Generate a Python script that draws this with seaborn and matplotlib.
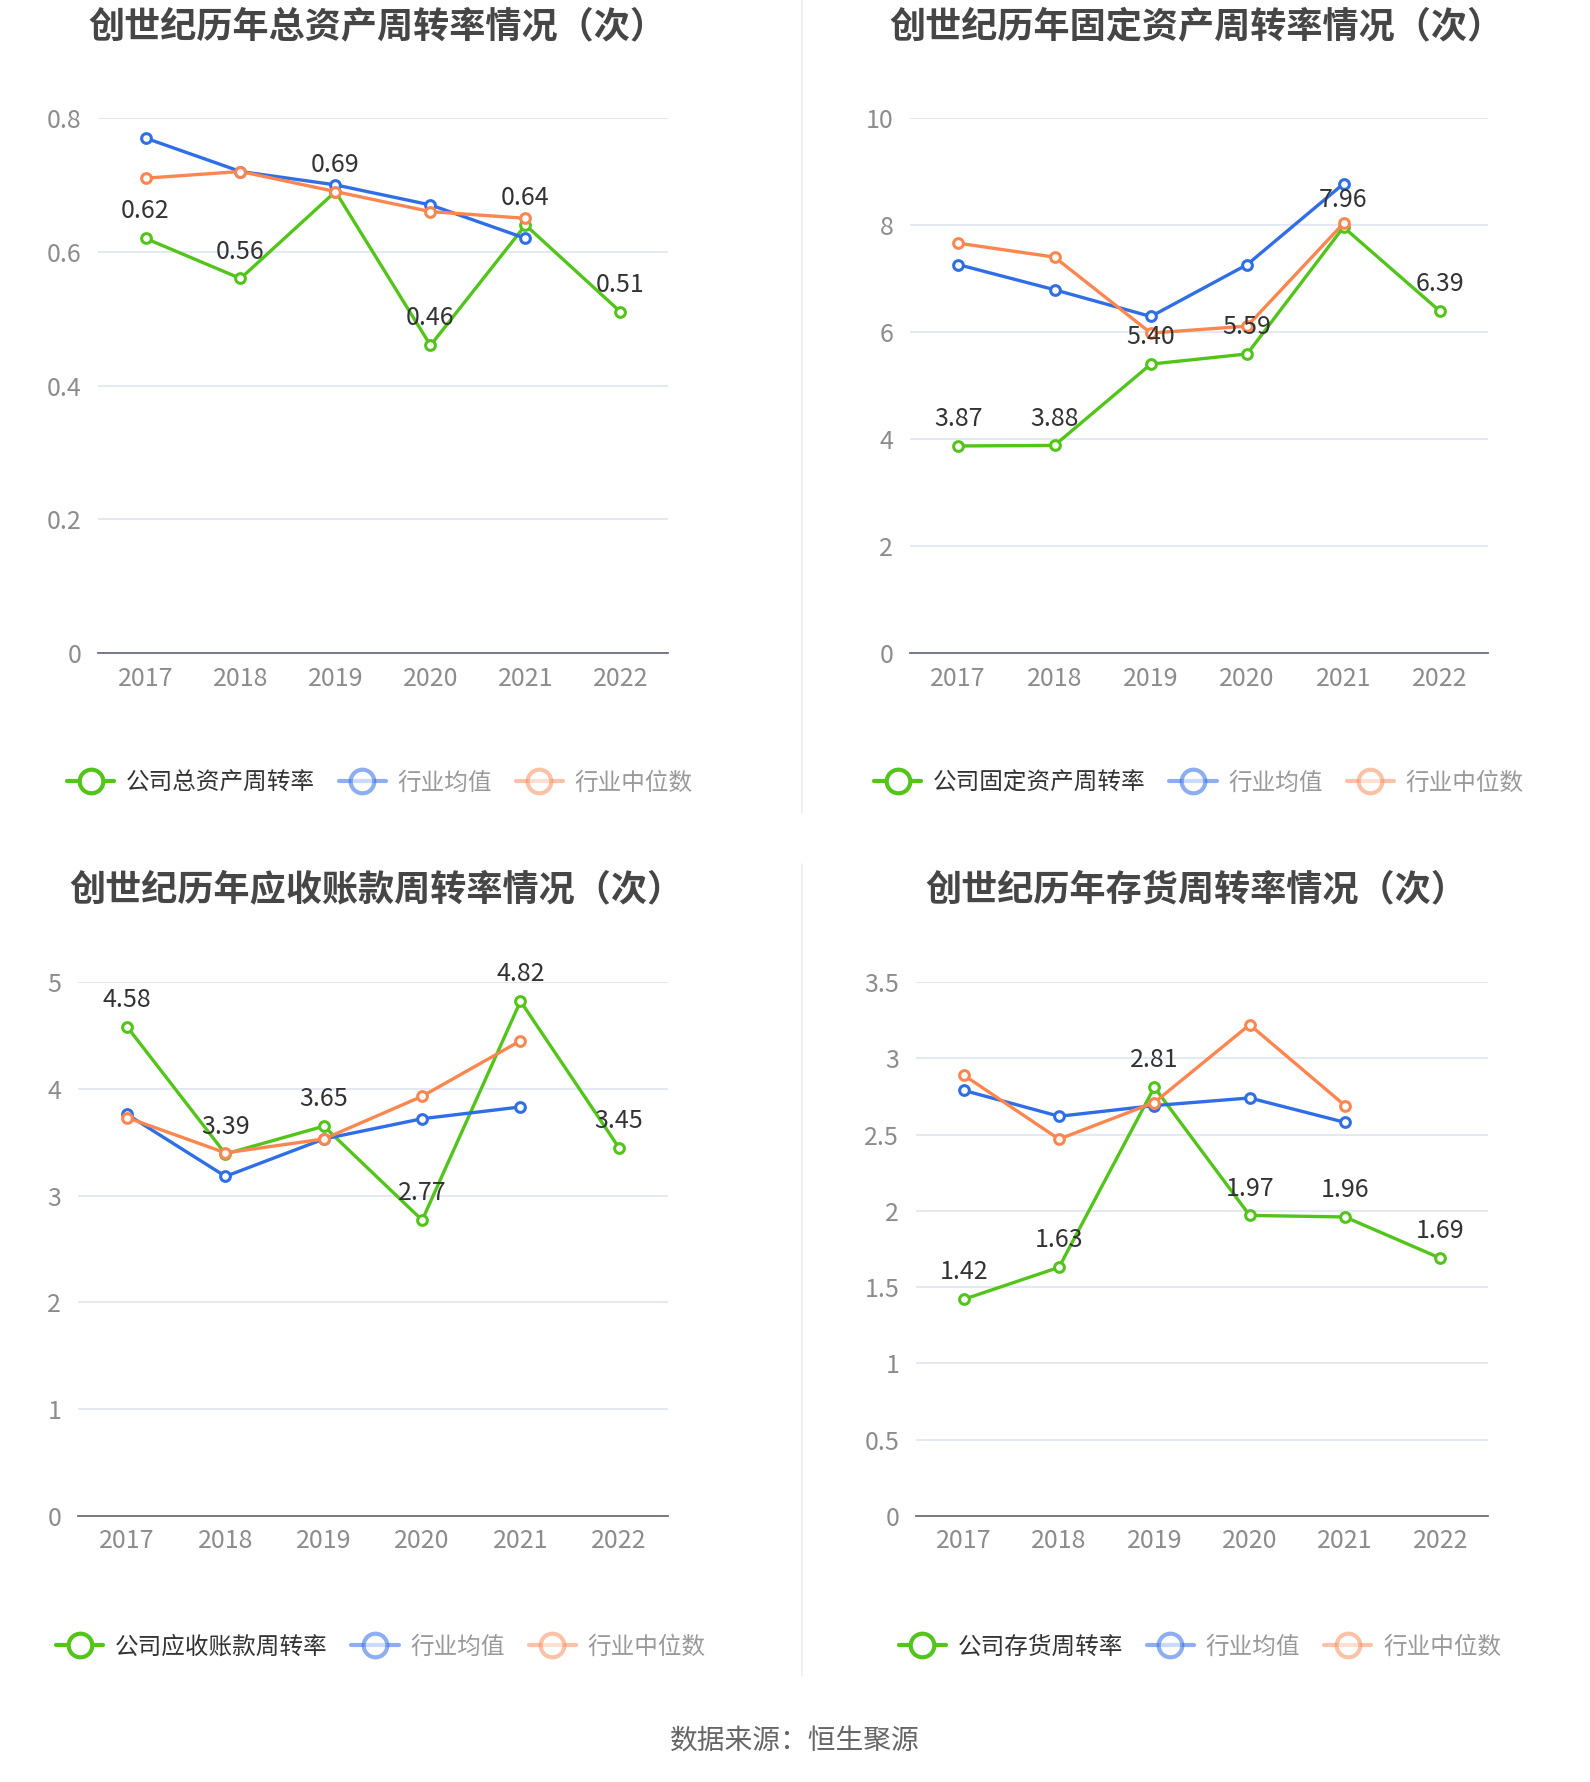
import matplotlib
matplotlib.use("Agg")
import matplotlib.pyplot as plt
from matplotlib.lines import Line2D
from matplotlib.ticker import FuncFormatter
import seaborn as sns
import pandas as pd
import numpy as np

# ---- data ----
years = ["2017", "2018", "2019", "2020", "2021", "2022"]

total_company = [0.62, 0.56, 0.69, 0.46, 0.64, 0.51]
total_avg = [0.77, 0.72, 0.70, 0.67, 0.62, np.nan]
total_median = [0.71, 0.72, 0.69, 0.66, 0.65, np.nan]

fixed_company = [3.87, 3.88, 5.40, 5.59, 7.96, 6.39]
fixed_avg = [7.26, 6.79, 6.29, 7.26, 8.77, np.nan]
fixed_median = [7.66, 7.40, 5.98, 6.11, 8.03, np.nan]

recv_company = [4.58, 3.39, 3.65, 2.77, 4.82, 3.45]
recv_avg = [3.76, 3.18, 3.53, 3.72, 3.83, np.nan]
recv_median = [3.73, 3.40, 3.53, 3.93, 4.45, np.nan]

inv_company = [1.42, 1.63, 2.81, 1.97, 1.96, 1.69]
inv_avg = [2.79, 2.62, 2.69, 2.74, 2.58, np.nan]
inv_median = [2.89, 2.47, 2.71, 3.22, 2.69, np.nan]

titles = ["创世纪历年总资产周转率情况（次）", "创世纪历年固定资产周转率情况（次）",
          "创世纪历年应收账款周转率情况（次）", "创世纪历年存货周转率情况（次）"]
company_names = ["公司总资产周转率", "公司固定资产周转率", "公司应收账款周转率", "公司存货周转率"]
avg_name = "行业均值"
median_name = "行业中位数"
y_ticks = [[0, 0.2, 0.4, 0.6, 0.8], [0, 2, 4, 6, 8, 10], [0, 1, 2, 3, 4, 5],
           [0, 0.5, 1, 1.5, 2, 2.5, 3, 3.5]]
source_text = "数据来源：恒生聚源"

GREEN = "#52c41a"
BLUE = "#2f6ee6"
ORANGE = "#fb8650"
GRID = "#e0e6f1"
AXIS = "#6e7079"
TICK = "#8c8c8c"

sns.set_theme(style="white")
plt.rcParams["font.family"] = ["Noto Sans CJK SC", "DejaVu Sans"]

fig = plt.figure(figsize=(15.9, 17.82), dpi=100)

W, H = 1590, 1782


def px_axes(left, top, right, bottom):
    return fig.add_axes([left / W, 1 - bottom / H, (right - left) / W, (bottom - top) / H])


panels = [
    dict(box=(98, 118, 668, 653), title_xy=(377, 27), legend_xy=(380, 783),
         series=(total_company, total_avg, total_median)),
    dict(box=(910, 118, 1488, 653), title_xy=(1196, 27), legend_xy=(1199, 783),
         series=(fixed_company, fixed_avg, fixed_median)),
    dict(box=(78, 982, 668, 1516), title_xy=(376, 890), legend_xy=(381, 1647),
         series=(recv_company, recv_avg, recv_median)),
    dict(box=(916, 982, 1488, 1516), title_xy=(1196, 890), legend_xy=(1200, 1647),
         series=(inv_company, inv_avg, inv_median)),
]

fmt = FuncFormatter(lambda v, p: f"{v:g}")

for i, p in enumerate(panels):
    ax = px_axes(*p["box"])
    comp, avg, med = p["series"]
    df = pd.DataFrame({"pos": range(len(years)), "company": comp, "avg": avg, "median": med})

    for col, color in [("company", GREEN), ("avg", BLUE), ("median", ORANGE)]:
        sub = df.dropna(subset=[col])
        sns.lineplot(data=sub, x="pos", y=col, ax=ax, color=color, linewidth=2.4,
                     marker="o", markersize=7, markerfacecolor="white",
                     markeredgecolor=color, markeredgewidth=2.2, zorder=3)

    for x, v in zip(df["pos"], comp):
        ax.annotate(f"{v:.2f}", (x, v), xytext=(0, 10), textcoords="offset points",
                    ha="center", va="bottom", fontsize=18, color="#333333", zorder=5)

    ticks = y_ticks[i]
    ax.set_ylim(0, ticks[-1])
    ax.set_yticks(ticks)
    ax.yaxis.set_major_formatter(fmt)
    ax.set_xlim(-0.5, len(years) - 0.5)
    ax.set_xticks(range(len(years)))
    ax.set_xticklabels(years)
    ax.set_xlabel("")
    ax.set_ylabel("")
    ax.grid(axis="y", color=GRID, linewidth=1.3)
    ax.grid(axis="x", visible=False)
    for s in ["top", "right", "left"]:
        ax.spines[s].set_visible(False)
    ax.spines["bottom"].set_color(AXIS)
    ax.spines["bottom"].set_linewidth(1.3)
    ax.tick_params(axis="x", colors=TICK, labelsize=18, length=6, width=1.2,
                   direction="out", pad=3)
    ax.tick_params(axis="x", color=AXIS)
    ax.tick_params(axis="y", colors=TICK, labelsize=18, length=0, pad=12)
    ax.set_axisbelow(True)

    tx, ty = p["title_xy"]
    fig.text(tx / W, 1 - ty / H, titles[i], ha="center", va="center",
             fontsize=26, fontweight="bold", color="#464646")

    handles = [
        Line2D([], [], color=GREEN, linewidth=3, marker="o", markersize=17,
               markerfacecolor="white", markeredgecolor=GREEN, markeredgewidth=3),
        Line2D([], [], color=BLUE, linewidth=3, marker="o", markersize=17, alpha=0.55,
               markerfacecolor="white", markeredgecolor=BLUE, markeredgewidth=3),
        Line2D([], [], color=ORANGE, linewidth=3, marker="o", markersize=17, alpha=0.5,
               markerfacecolor="white", markeredgecolor=ORANGE, markeredgewidth=3),
    ]
    lx, ly = p["legend_xy"]
    leg = ax.legend(handles, [company_names[i], avg_name, median_name], ncol=3,
                    loc="center", bbox_to_anchor=(lx / W, 1 - ly / H),
                    bbox_transform=fig.transFigure, frameon=False, fontsize=17,
                    handlelength=2.0, handletextpad=0.5, columnspacing=1.0)
    texts = leg.get_texts()
    texts[0].set_color("#333333")
    texts[1].set_color("#999999")
    texts[2].set_color("#999999")

# divider lines between columns
fig.add_artist(Line2D([802 / W, 802 / W], [1 - 0 / H, 1 - 813 / H],
                      transform=fig.transFigure, color="#eeeeee", linewidth=1.2))
fig.add_artist(Line2D([802 / W, 802 / W], [1 - 864 / H, 1 - 1676 / H],
                      transform=fig.transFigure, color="#eeeeee", linewidth=1.2))

fig.text(0.5, 1 - 1742 / H, source_text, ha="center", va="center",
         fontsize=20, color="#666666")

fig.savefig("out.png", dpi=100, facecolor="white")
